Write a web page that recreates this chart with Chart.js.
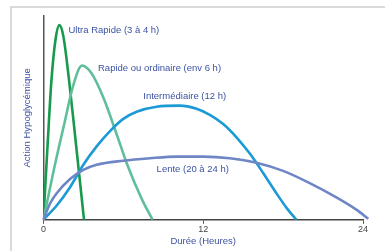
<!DOCTYPE html>
<html>
<head>
<meta charset="utf-8">
<script src="https://cdn.jsdelivr.net/npm/chart.js@4/dist/chart.umd.min.js"></script>
<style>
  html, body { margin: 0; padding: 0; background: #fff; }
  #wrap { position: relative; width: 385px; height: 251px; overflow: hidden; }
  #frame { position: absolute; left: 10px; top: 6px; width: 400px; height: 300px;
           border-top: 2px solid #d9d9d9; border-left: 2px solid #d9d9d9; }
  canvas { position: absolute; left: 0; top: 0; }
</style>
</head>
<body>
<div id="wrap">
  <div id="frame"></div>
  <canvas id="chart" width="385" height="251"></canvas>
</div>
<script>
// hours on x, relative hypoglycaemic action (0-100) on y
const xTicks = [0, 12, 24];

const ultraX = [0, 0.3, 0.6, 0.9, 1.2, 1.5, 1.9, 2.4, 3.05];
const ultraY = [0, 35, 68, 88, 95.5, 90, 70, 40, 0];

const rapideX = [0, 0.8, 1.6, 2.2, 2.9, 3.6, 4.5, 5.5, 6.3, 7.4, 8.2];
const rapideY = [0, 25, 48, 65, 75.7, 72, 60, 42, 27, 10, 0];

const interX = [0, 1, 2, 3, 4, 5, 6, 7, 8.5, 10.2, 11.5, 12.5, 13.5, 14.5, 15.5, 16.5, 17.5, 18.3, 19];
const interY = [0, 7, 16, 27, 36, 43.5, 49.5, 53, 55.5, 56, 54.5, 51.5, 47, 40.5, 32.5, 23, 13, 5.5, 0];

const lenteX = [0, 0.5, 1, 2, 3, 4, 6, 8, 10, 12, 14, 16, 18, 20, 22, 23.5, 24.4];
const lenteY = [0, 8, 13, 20, 24.5, 27, 29, 30.2, 31, 31, 30.2, 28, 24, 18, 11, 5, 0.5];

const curveLabels = [
  { text: "Ultra Rapide (3 à 4 h)", x: 1.88, y: 93 },
  { text: "Rapide ou ordinaire (env 6 h)", x: 4.1, y: 74.5 },
  { text: "Intermédiaire (12 h)", x: 7.5, y: 60.5 },
  { text: "Lente (20 à 24 h)", x: 8.5, y: 24.5 },
];

const LABEL_BLUE = "#3b52a3";
const FONT = "'Liberation Sans', Arial, sans-serif";
const zip = (xs, ys) => xs.map((x, i) => ({ x, y: ys[i] }));

const line = (data, color, extra) => Object.assign({
  data, borderColor: color, borderWidth: 2.6, pointRadius: 0,
  tension: 0.4, cubicInterpolationMode: "monotone", fill: false,
}, extra || {});

const labelPlugin = {
  id: "curveLabels",
  afterDatasetsDraw(chart) {
    const { ctx, scales: { x, y } } = chart;
    ctx.save();
    ctx.font = `9.5px ${FONT}`;
    ctx.fillStyle = LABEL_BLUE;
    ctx.textBaseline = "middle";
    curveLabels.forEach(l => ctx.fillText(l.text, x.getPixelForValue(l.x), y.getPixelForValue(l.y)));
    ctx.restore();
  },
};

new Chart(document.getElementById("chart"), {
  type: "line",
  data: {
    datasets: [
      line(zip(lenteX, lenteY), "#6e86c6", { clip: false }),
      line(zip(interX, interY), "#1c9ad6"),
      line(zip(rapideX, rapideY), "#5fbf9b"),
      line(zip(ultraX, ultraY), "#179a4b"),
    ],
  },
  options: {
    responsive: false,
    animation: false,
    layout: { padding: { left: 20, right: 22, top: 16, bottom: 4 } },
    plugins: { legend: { display: false }, tooltip: { enabled: false } },
    scales: {
      x: {
        type: "linear", min: 0, max: 24,
        afterBuildTicks: (s) => { s.ticks = xTicks.map(v => ({ value: v })); },
        grid: { drawOnChartArea: false, drawTicks: true, tickLength: 4, color: "#555" },
        border: { color: "#444", width: 1.5 },
        ticks: { color: "#444", padding: 0, font: { size: 9, family: FONT } },
        title: { display: true, text: "Durée (Heures)", color: LABEL_BLUE, padding: { top: 1, bottom: 0 },
                 font: { size: 9.5, family: FONT } },
      },
      y: {
        min: 0, max: 100,
        grid: { display: false, drawTicks: false },
        border: { color: "#555", width: 1.5 },
        ticks: { display: false },
        title: { display: true, text: "Action Hypoglycémique", color: LABEL_BLUE, padding: { top: 2, bottom: 10 },
                 font: { size: 9.5, family: FONT } },
      },
    },
  },
  plugins: [labelPlugin],
});
</script>
</body>
</html>
